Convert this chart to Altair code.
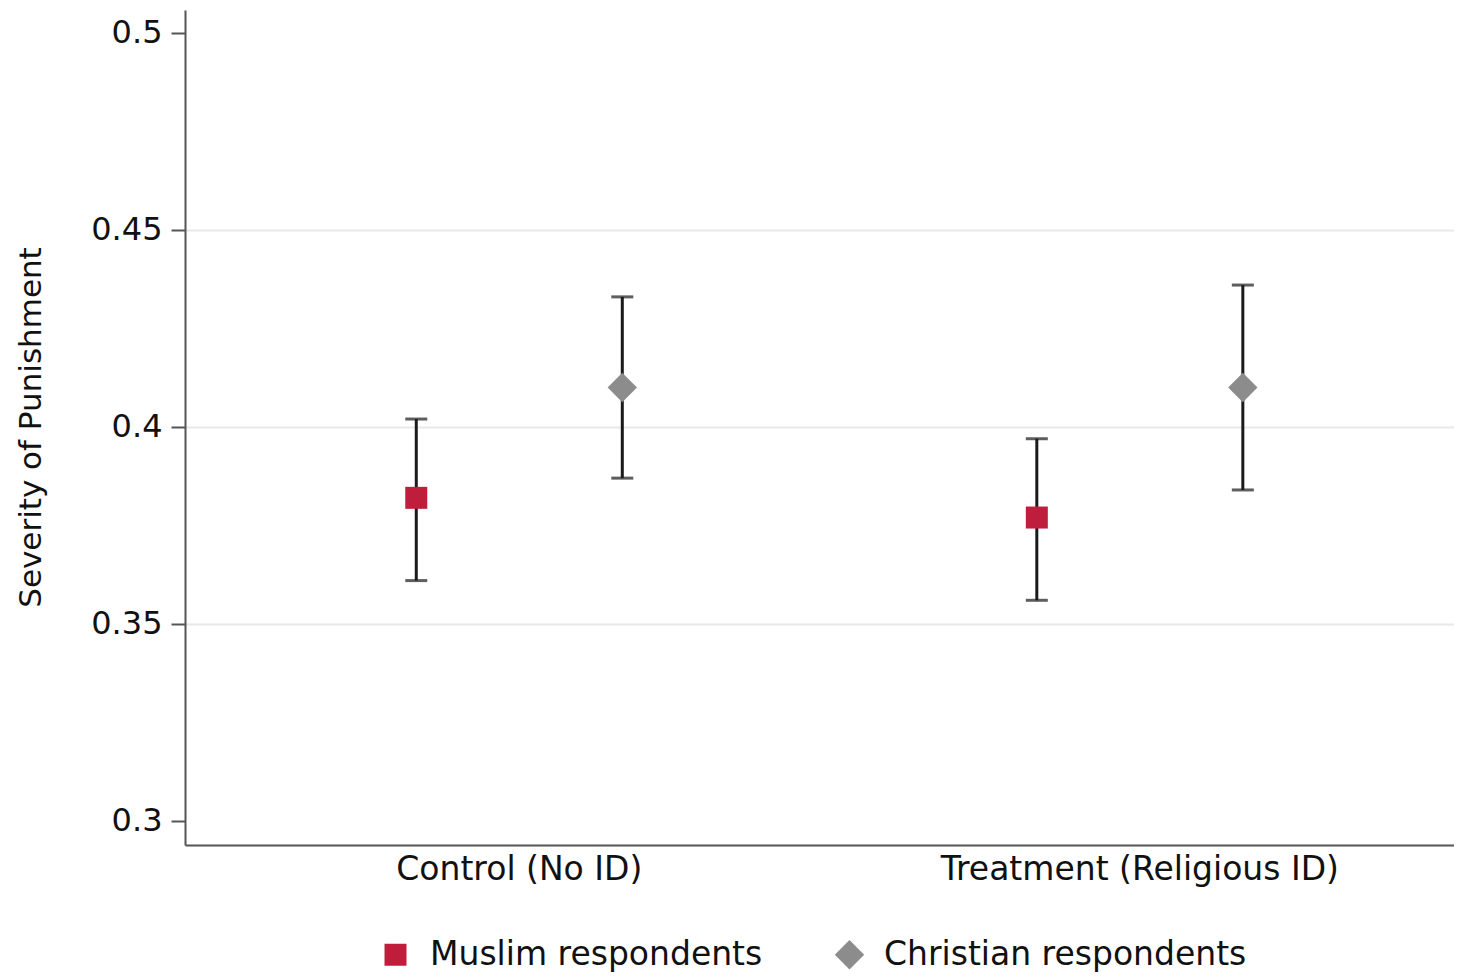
import altair as alt
import pandas as pd

conditions = ["Control (No ID)", "Control (No ID)", "Treatment (Religious ID)", "Treatment (Religious ID)"]
groups = ["Muslim respondents", "Christian respondents", "Muslim respondents", "Christian respondents"]
means = [0.382, 0.410, 0.377, 0.410]
lower = [0.361, 0.387, 0.356, 0.384]
upper = [0.402, 0.433, 0.397, 0.436]

cond_order = ["Control (No ID)", "Treatment (Religious ID)"]
group_order = ["Muslim respondents", "Christian respondents"]
group_colors = ["#be1e3c", "#8c8c8c"]
group_shapes = ["square", "diamond"]
group_sizes = [484, 860]

y_ticks = [0.3, 0.35, 0.4, 0.45, 0.5]

df = pd.DataFrame({"condition": conditions, "group": groups, "mean": means,
                   "lower": lower, "upper": upper})

FONT = "DejaVu Sans"

x_enc = alt.X("condition:N", sort=cond_order,
              scale=alt.Scale(paddingInner=0, paddingOuter=0.0225, align=0.86),
              axis=alt.Axis(title=None, labelAngle=0, labelFontSize=33, labelFont=FONT,
                            labelColor="#111", ticks=False, labelPadding=8, labelLimit=0,
                            domainColor="#555", domainWidth=2, grid=False))
xo_enc = alt.XOffset("group:N", sort=group_order,
                     scale=alt.Scale(paddingInner=0, paddingOuter=0.506))
y_scale = alt.Scale(domain=[0.2939, 0.5058], zero=False, nice=False)

bars = alt.Chart(df).mark_rule(color="#1a1a1a", strokeWidth=3).encode(
    x=x_enc, xOffset=xo_enc,
    y=alt.Y("lower:Q", scale=y_scale,
            axis=alt.Axis(values=y_ticks, format=".2~f", title="Severity of Punishment",
                          titleFontSize=31, titleFont=FONT, titleFontWeight="normal",
                          titleColor="#111", titleX=-154, titleY=417, titleAngle=270,
                          titleAlign="center", titleBaseline="middle",
                          labelFontSize=32, labelFont=FONT, labelColor="#111",
                          tickSize=14, tickWidth=2, tickColor="#555", labelPadding=9,
                          domainColor="#555", domainWidth=2,
                          grid=True, gridWidth=2,
                          gridColor={"condition": {"test": "datum.value < 0.32 || datum.value > 0.48",
                                                   "value": "transparent"},
                                     "value": "#e8e8e8"})),
    y2="upper:Q",
)

caps_lo = alt.Chart(df).mark_tick(color="#1a1a1a", thickness=3, size=22, orient="horizontal").encode(
    x=x_enc, xOffset=xo_enc, y=alt.Y("lower:Q", scale=y_scale)
)
caps_hi = alt.Chart(df).mark_tick(color="#1a1a1a", thickness=3, size=22, orient="horizontal").encode(
    x=x_enc, xOffset=xo_enc, y=alt.Y("upper:Q", scale=y_scale)
)

points = alt.Chart(df).mark_point(filled=True, opacity=1).encode(
    x=x_enc, xOffset=xo_enc,
    y=alt.Y("mean:Q", scale=y_scale),
    color=alt.Color("group:N", sort=group_order,
                    scale=alt.Scale(domain=group_order, range=group_colors),
                    legend=alt.Legend(title=None, orient="none", direction="horizontal",
                                      legendX=194, legendY=928, labelLimit=0,
                                      labelFontSize=33, labelFont=FONT, labelColor="#111",
                                      symbolSize=560, symbolStrokeWidth=0,
                                      labelOffset=18, columnPadding=70, padding=0)),
    shape=alt.Shape("group:N", sort=group_order,
                    scale=alt.Scale(domain=group_order, range=group_shapes)),
    size=alt.Size("group:N", sort=group_order,
                  scale=alt.Scale(domain=group_order, range=group_sizes), legend=None),
)

chart = alt.layer(bars, caps_lo, caps_hi, points).properties(
    width=1269, height=835,
    background="white",
    autosize=alt.AutoSizeParams(type="none"),
    padding={"left": 177, "top": 2, "right": 0, "bottom": 128},
).configure_view(stroke=None, strokeWidth=0)

chart.save("out.html", embed_options={"renderer": "svg", "actions": False})
